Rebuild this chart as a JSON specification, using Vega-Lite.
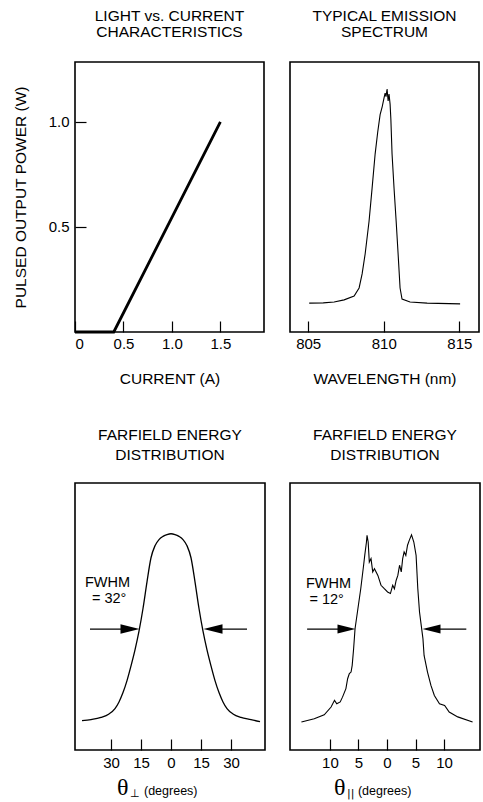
{
  "$schema": "https://vega.github.io/schema/vega-lite/v6.json",
  "background": "white",
  "padding": {"left": 12, "top": 7, "right": 0, "bottom": 0},
  "autosize": {"type": "pad"},
  "config": {
    "font": "Liberation Sans",
    "view": {"stroke": "black", "strokeWidth": 1.6},
    "axis": {
      "domain": false, "grid": false,
      "tickColor": "black", "tickWidth": 1.2, "tickSize": -11,
      "labelColor": "black", "labelFontSize": 15, "labelFont": "Liberation Sans", "labelPadding": 15,
      "titleFont": "Liberation Sans", "titleFontSize": 15.5, "titleFontWeight": "normal", "titleColor": "black"
    },
    "title": {"fontSize": 15.5, "fontWeight": "normal", "font": "Liberation Sans", "color": "black", "anchor": "middle"}
  },
  "datasets": {
    "lc": [
      {"current": 0, "power": 0},
      {"current": 0.4, "power": 0},
      {"current": 1.5, "power": 1.0}
    ],
    "spectrum": [
      {"wl": 805.07, "i": 0.107}, {"wl": 806.0, "i": 0.108}, {"wl": 806.72, "i": 0.111},
      {"wl": 807.38, "i": 0.119}, {"wl": 808.04, "i": 0.133}, {"wl": 808.37, "i": 0.163},
      {"wl": 808.57, "i": 0.215}, {"wl": 808.77, "i": 0.289}, {"wl": 809.03, "i": 0.411},
      {"wl": 809.23, "i": 0.533}, {"wl": 809.43, "i": 0.659}, {"wl": 809.6, "i": 0.74},
      {"wl": 809.76, "i": 0.805}, {"wl": 809.9, "i": 0.835}, {"wl": 810.02, "i": 0.867},
      {"wl": 810.09, "i": 0.885}, {"wl": 810.15, "i": 0.872}, {"wl": 810.22, "i": 0.9},
      {"wl": 810.29, "i": 0.856}, {"wl": 810.35, "i": 0.881}, {"wl": 810.42, "i": 0.844},
      {"wl": 810.47, "i": 0.79}, {"wl": 810.55, "i": 0.659}, {"wl": 810.68, "i": 0.533},
      {"wl": 810.82, "i": 0.411}, {"wl": 810.95, "i": 0.289}, {"wl": 811.08, "i": 0.163},
      {"wl": 811.21, "i": 0.122}, {"wl": 811.74, "i": 0.111}, {"wl": 812.87, "i": 0.107},
      {"wl": 815.05, "i": 0.104}
    ],
    "perp": [
      {"t": -44.5, "i": 0.11}, {"t": -40, "i": 0.114}, {"t": -35, "i": 0.122}, {"t": -31, "i": 0.135},
      {"t": -28, "i": 0.155}, {"t": -26, "i": 0.18}, {"t": -24, "i": 0.215}, {"t": -22, "i": 0.26},
      {"t": -20, "i": 0.315}, {"t": -18, "i": 0.375}, {"t": -16, "i": 0.445}, {"t": -14, "i": 0.53},
      {"t": -12, "i": 0.63}, {"t": -10, "i": 0.72}, {"t": -8, "i": 0.765}, {"t": -6, "i": 0.788},
      {"t": -4, "i": 0.8}, {"t": -2, "i": 0.807}, {"t": 0, "i": 0.81}, {"t": 2, "i": 0.807},
      {"t": 4, "i": 0.8}, {"t": 6, "i": 0.788}, {"t": 8, "i": 0.765}, {"t": 10, "i": 0.72},
      {"t": 12, "i": 0.63}, {"t": 14, "i": 0.53}, {"t": 16, "i": 0.445}, {"t": 18, "i": 0.375},
      {"t": 20, "i": 0.315}, {"t": 22, "i": 0.26}, {"t": 24, "i": 0.215}, {"t": 26, "i": 0.18},
      {"t": 28, "i": 0.155}, {"t": 31, "i": 0.135}, {"t": 35, "i": 0.122}, {"t": 40, "i": 0.114},
      {"t": 44.5, "i": 0.106}
    ],
    "par": [
      {"t": -15.0, "i": 0.105}, {"t": -12.75, "i": 0.117}, {"t": -11.0, "i": 0.132}, {"t": -9.8, "i": 0.161},
      {"t": -9.2, "i": 0.186}, {"t": -8.8, "i": 0.173}, {"t": -8.2, "i": 0.18}, {"t": -7.8, "i": 0.198},
      {"t": -7.2, "i": 0.23}, {"t": -6.9, "i": 0.267}, {"t": -6.6, "i": 0.286}, {"t": -6.3, "i": 0.292},
      {"t": -6.1, "i": 0.317}, {"t": -5.85, "i": 0.379}, {"t": -5.6, "i": 0.454}, {"t": -5.1, "i": 0.529},
      {"t": -4.6, "i": 0.604}, {"t": -4.1, "i": 0.692}, {"t": -3.9, "i": 0.729}, {"t": -3.6, "i": 0.779},
      {"t": -3.5, "i": 0.804}, {"t": -3.3, "i": 0.779}, {"t": -3.1, "i": 0.704}, {"t": -2.8, "i": 0.717},
      {"t": -2.5, "i": 0.667}, {"t": -2.2, "i": 0.679}, {"t": -1.6, "i": 0.654}, {"t": -1.05, "i": 0.617},
      {"t": -0.47, "i": 0.604}, {"t": 0.1, "i": 0.592}, {"t": 0.6, "i": 0.586}, {"t": 1.0, "i": 0.617},
      {"t": 1.3, "i": 0.604}, {"t": 1.6, "i": 0.635}, {"t": 1.9, "i": 0.654}, {"t": 2.2, "i": 0.692},
      {"t": 2.5, "i": 0.667}, {"t": 2.75, "i": 0.717}, {"t": 3.0, "i": 0.742}, {"t": 3.3, "i": 0.729},
      {"t": 3.6, "i": 0.767}, {"t": 3.9, "i": 0.785}, {"t": 4.3, "i": 0.806}, {"t": 4.7, "i": 0.779},
      {"t": 5.1, "i": 0.729}, {"t": 5.4, "i": 0.604}, {"t": 5.7, "i": 0.517}, {"t": 6.0, "i": 0.467},
      {"t": 6.3, "i": 0.417}, {"t": 6.5, "i": 0.354}, {"t": 7.1, "i": 0.292}, {"t": 7.7, "i": 0.242},
      {"t": 8.3, "i": 0.204}, {"t": 9.2, "i": 0.173}, {"t": 10.1, "i": 0.167}, {"t": 10.9, "i": 0.142},
      {"t": 12.4, "i": 0.124}, {"t": 15.0, "i": 0.105}
    ],
    "perp_notes": [
      {"part": "note", "text": "FWHM", "t": -43, "i": 0.612},
      {"part": "note", "text": "= 32°", "t": -39.5, "i": 0.552},
      {"part": "theta", "text": "θ", "t": -27, "i": -0.17},
      {"part": "sub", "text": "⊥", "t": -20.5, "i": -0.176},
      {"part": "deg", "text": "(degrees)", "t": -13.5, "i": -0.168}
    ],
    "par_notes": [
      {"part": "note", "text": "FWHM", "t": -14.2, "i": 0.608},
      {"part": "note", "text": "= 12°", "t": -13.6, "i": 0.546},
      {"part": "theta", "text": "θ", "t": -9.3, "i": -0.17},
      {"part": "sub", "text": "||", "t": -7.0, "i": -0.176},
      {"part": "deg", "text": "(degrees)", "t": -5.1, "i": -0.168}
    ],
    "perp_arrows": [
      {"dir": "r", "t1": -40.5, "t2": -20.5, "head": -20.5, "i": 0.453},
      {"dir": "l", "t1": 38, "t2": 21, "head": 21, "i": 0.453}
    ],
    "par_arrows": [
      {"dir": "r", "t1": -14, "t2": -7.1, "head": -7.1, "i": 0.453},
      {"dir": "l", "t1": 13.9, "t2": 7.8, "head": 7.8, "i": 0.453}
    ]
  },
  "columns": 2,
  "align": "each",
  "spacing": {"row": 38, "column": 23},
  "concat": [
    {
      "width": 189, "height": 270,
      "title": {"text": ["LIGHT vs. CURRENT", "CHARACTERISTICS"], "lineHeight": 16, "offset": 22},
      "data": {"name": "lc"},
      "mark": {"type": "line", "color": "black", "strokeWidth": 2.8},
      "encoding": {
        "x": {"field": "current", "type": "quantitative",
              "scale": {"domain": [0, 1.95], "nice": false, "zero": false},
              "axis": {"values": [0, 0.5, 1, 1.5], "labelExpr": "datum.value == 0 ? '0' : format(datum.value, '.1f')", "title": "CURRENT (A)", "titlePadding": 20}},
        "y": {"field": "power", "type": "quantitative",
              "scale": {"domain": [0, 1.285], "nice": false},
              "axis": {"values": [0.5, 1], "format": ".1f", "title": "PULSED OUTPUT POWER (W)", "titlePadding": 20, "labelPadding": 17}}
      }
    },
    {
      "width": 189, "height": 270,
      "title": {"text": ["TYPICAL EMISSION", "SPECTRUM"], "lineHeight": 16, "offset": 22},
      "data": {"name": "spectrum"},
      "mark": {"type": "line", "color": "black", "strokeWidth": 1.1},
      "encoding": {
        "x": {"field": "wl", "type": "quantitative",
              "scale": {"domain": [803.8, 816.3], "nice": false, "zero": false},
              "axis": {"values": [805, 810, 815], "format": "d", "title": "WAVELENGTH (nm)", "titlePadding": 20}},
        "y": {"field": "i", "type": "quantitative", "scale": {"domain": [0, 1], "nice": false}, "axis": null}
      }
    },
    {
      "width": 190, "height": 267,
      "title": {"text": ["FARFIELD ENERGY", "DISTRIBUTION"], "lineHeight": 20, "offset": 20},
      "layer": [
        {
          "data": {"name": "perp"},
          "mark": {"type": "line", "color": "black", "strokeWidth": 1.3, "interpolate": "monotone"},
          "encoding": {
            "x": {"field": "t", "type": "quantitative",
                  "scale": {"domain": [-48, 47], "nice": false, "zero": false},
                  "axis": {"values": [-30, -15, 0, 15, 30], "labelExpr": "abs(datum.value)", "title": null, "labelPadding": 16}},
            "y": {"field": "i", "type": "quantitative", "scale": {"domain": [0, 1], "nice": false}, "axis": null}
          }
        },
        {
          "data": {"name": "perp_arrows"},
          "mark": {"type": "rule", "color": "black", "strokeWidth": 1.3},
          "encoding": {
            "x": {"field": "t1", "type": "quantitative"},
            "x2": {"field": "t2"},
            "y": {"field": "i", "type": "quantitative"}
          }
        },
        {
          "data": {"name": "perp_arrows"},
          "mark": {"type": "point", "filled": true, "color": "black", "opacity": 1, "size": 361, "strokeWidth": 0},
          "encoding": {
            "x": {"field": "head", "type": "quantitative"},
            "y": {"field": "i", "type": "quantitative"},
            "shape": {"field": "dir", "type": "nominal", "legend": null,
                      "scale": {"domain": ["r", "l"], "range": ["M-1,-0.5L1,0L-1,0.5Z", "M1,-0.5L-1,0L1,0.5Z"]}}
          }
        },
        {
          "data": {"name": "perp_notes"},
          "transform": [{"filter": "datum.part == 'note'"}],
          "mark": {"type": "text", "align": "left", "baseline": "alphabetic", "fontSize": 14.5, "color": "black"},
          "encoding": {"x": {"field": "t", "type": "quantitative"}, "y": {"field": "i", "type": "quantitative"}, "text": {"field": "text"}}
        },
        {
          "data": {"name": "perp_notes"},
          "transform": [{"filter": "datum.part == 'theta'"}],
          "mark": {"type": "text", "align": "left", "baseline": "alphabetic", "fontSize": 24, "font": "Liberation Serif", "color": "black"},
          "encoding": {"x": {"field": "t", "type": "quantitative"}, "y": {"field": "i", "type": "quantitative"}, "text": {"field": "text"}}
        },
        {
          "data": {"name": "perp_notes"},
          "transform": [{"filter": "datum.part == 'sub'"}],
          "mark": {"type": "text", "align": "left", "baseline": "alphabetic", "fontSize": 11, "font": "DejaVu Sans", "color": "black"},
          "encoding": {"x": {"field": "t", "type": "quantitative"}, "y": {"field": "i", "type": "quantitative"}, "text": {"field": "text"}}
        },
        {
          "data": {"name": "perp_notes"},
          "transform": [{"filter": "datum.part == 'deg'"}],
          "mark": {"type": "text", "align": "left", "baseline": "alphabetic", "fontSize": 12.5, "color": "black"},
          "encoding": {"x": {"field": "t", "type": "quantitative"}, "y": {"field": "i", "type": "quantitative"}, "text": {"field": "text"}}
        }
      ]
    },
    {
      "width": 190, "height": 267,
      "title": {"text": ["FARFIELD ENERGY", "DISTRIBUTION"], "lineHeight": 20, "offset": 20},
      "layer": [
        {
          "data": {"name": "par"},
          "mark": {"type": "line", "color": "black", "strokeWidth": 1.1},
          "encoding": {
            "x": {"field": "t", "type": "quantitative",
                  "scale": {"domain": [-17, 16.3], "nice": false, "zero": false},
                  "axis": {"values": [-10, -5, 0, 5, 10], "labelExpr": "abs(datum.value)", "title": null, "labelPadding": 16}},
            "y": {"field": "i", "type": "quantitative", "scale": {"domain": [0, 1], "nice": false}, "axis": null}
          }
        },
        {
          "data": {"name": "par_arrows"},
          "mark": {"type": "rule", "color": "black", "strokeWidth": 1.3},
          "encoding": {
            "x": {"field": "t1", "type": "quantitative"},
            "x2": {"field": "t2"},
            "y": {"field": "i", "type": "quantitative"}
          }
        },
        {
          "data": {"name": "par_arrows"},
          "mark": {"type": "point", "filled": true, "color": "black", "opacity": 1, "size": 324, "strokeWidth": 0},
          "encoding": {
            "x": {"field": "head", "type": "quantitative"},
            "y": {"field": "i", "type": "quantitative"},
            "shape": {"field": "dir", "type": "nominal", "legend": null,
                      "scale": {"domain": ["r", "l"], "range": ["M-1,-0.5L1,0L-1,0.5Z", "M1,-0.5L-1,0L1,0.5Z"]}}
          }
        },
        {
          "data": {"name": "par_notes"},
          "transform": [{"filter": "datum.part == 'note'"}],
          "mark": {"type": "text", "align": "left", "baseline": "alphabetic", "fontSize": 14.5, "color": "black"},
          "encoding": {"x": {"field": "t", "type": "quantitative"}, "y": {"field": "i", "type": "quantitative"}, "text": {"field": "text"}}
        },
        {
          "data": {"name": "par_notes"},
          "transform": [{"filter": "datum.part == 'theta'"}],
          "mark": {"type": "text", "align": "left", "baseline": "alphabetic", "fontSize": 24, "font": "Liberation Serif", "color": "black"},
          "encoding": {"x": {"field": "t", "type": "quantitative"}, "y": {"field": "i", "type": "quantitative"}, "text": {"field": "text"}}
        },
        {
          "data": {"name": "par_notes"},
          "transform": [{"filter": "datum.part == 'sub'"}],
          "mark": {"type": "text", "align": "left", "baseline": "alphabetic", "fontSize": 11, "font": "DejaVu Sans", "color": "black"},
          "encoding": {"x": {"field": "t", "type": "quantitative"}, "y": {"field": "i", "type": "quantitative"}, "text": {"field": "text"}}
        },
        {
          "data": {"name": "par_notes"},
          "transform": [{"filter": "datum.part == 'deg'"}],
          "mark": {"type": "text", "align": "left", "baseline": "alphabetic", "fontSize": 12.5, "color": "black"},
          "encoding": {"x": {"field": "t", "type": "quantitative"}, "y": {"field": "i", "type": "quantitative"}, "text": {"field": "text"}}
        }
      ]
    }
  ]
}
